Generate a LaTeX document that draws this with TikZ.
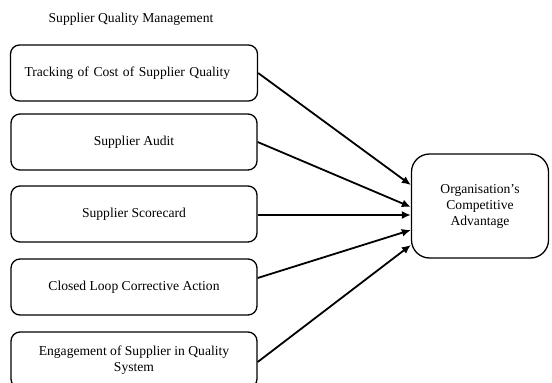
\documentclass[tikz,border=0pt]{standalone}
\usepackage{fontspec}
\setmainfont{Liberation Serif}
\usetikzlibrary{arrows.meta}

\begin{document}
\begin{tikzpicture}[x=1pt, y=1pt,
  font=\fontsize{13.6}{16}\selectfont,
  factor/.style={draw, line width=1.3pt, rounded corners=9pt, minimum width=246pt, minimum height=56pt, align=center},
  outcome/.style={draw, line width=1.3pt, rounded corners=18pt, minimum width=137pt, minimum height=104pt, align=center},
  link/.style={line width=1.8pt, -{Latex[length=9pt,width=8pt]}}]
\useasboundingbox (0,0) rectangle (552,-383);
\node (title) at (131,-19) {Supplier Quality Management};
\node [factor, text width=219pt, align=left, inner xsep=14pt] (track) at (134,-73) {Tracking of Cost of Supplier Quality};
\node [factor] (audit) at (134,-142) {Supplier Audit};
\node [factor] (score) at (134,-214) {Supplier Scorecard};
\node [factor] (loop) at (134,-287) {Closed Loop Corrective Action};
\node [factor] (engage) at (134,-360) {Engagement of Supplier in Quality\\System};
\node [outcome] (adv) at (480,-206) {Organisation's\\Competitive\\Advantage};
\draw [link] (track.east) -- ([yshift=21pt]adv.west);
\draw [link] (audit.east) -- ([yshift=-1pt]adv.west);
\draw [link] ([yshift=-1pt]score.east) -- ([yshift=-9pt]adv.west);
\draw [link] ([yshift=9pt]loop.east) -- ([yshift=-24pt]adv.west);
\draw [link] ([yshift=-2pt]engage.east) -- ([yshift=-39pt]adv.west);
\end{tikzpicture}
\end{document}
